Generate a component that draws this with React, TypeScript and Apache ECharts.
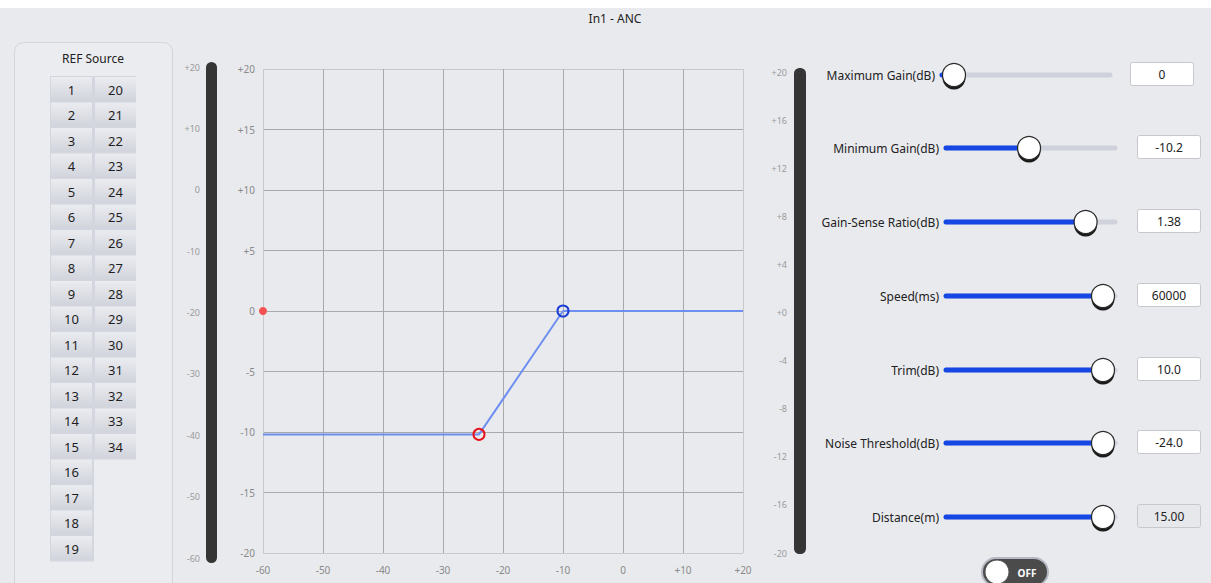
import React, { useEffect, useRef } from 'react';
import * as echarts from 'echarts';

// ---------- data ----------
const TITLE = 'In1 - ANC';
const PANEL_TITLE = 'REF Source';

// transfer curve (input dB -> gain dB)
const curveX = [-60, -24, -10, 20];
const curveY = [-10.2, -10.2, 0, 0];
const kneeLow = [-24, -10.2];
const kneeHigh = [-10, 0];
const inputLevel = [-60, 0];

// main axes
const xMin = -60, xMax = 20, xStep = 10;
const yMin = -20, yMax = 20, yStep = 5;
// meters
const leftMeterMin = -60, leftMeterMax = 20, leftMeterStep = 10;
const rightMeterMin = -20, rightMeterMax = 20, rightMeterStep = 4;

// REF source buttons
const refCol1 = ['1', '2', '3', '4', '5', '6', '7', '8', '9', '10', '11', '12', '13', '14', '15', '16', '17', '18', '19'];
const refCol2 = ['20', '21', '22', '23', '24', '25', '26', '27', '28', '29', '30', '31', '32', '33', '34'];

// sliders
const sliderLabels = ['Maximum Gain(dB)', 'Minimum Gain(dB)', 'Gain-Sense Ratio(dB)', 'Speed(ms)', 'Trim(dB)', 'Noise Threshold(dB)', 'Distance(m)'];
const sliderValues = [0, -10.2, 1.38, 60000, 10.0, -24.0, 15.0];
const sliderTexts = ['0', '-10.2', '1.38', '60000', '10.0', '-24.0', '15.00'];
const sliderMins = [0, -20, 0.5, 0, -20, -60, 0];
const sliderMaxs = [20, 0, 1.5, 60000, 10, -24, 15];
const sliderEnabled = [true, true, true, true, true, true, false];
const TOGGLE_TEXT = 'OFF';

// ---------- layout ----------
const W = 1211, H = 583;
const FONT = "'Segoe UI', 'Noto Sans', sans-serif";
const rowY = [75, 148, 222, 296, 370, 443, 517];
const trackL = [942, 946, 946, 946, 946, 946, 946];
const trackR = [1110, 1115, 1115, 1115, 1115, 1115, 1115];
const boxX = [1130, 1137, 1137, 1137, 1137, 1137, 1137];
const THUMB_R = 12;

const signed = (v: number) => (v > 0 ? '+' + v : String(v));
const signedZero = (v: number) => (v >= 0 ? '+' + v : String(v));

function buildOption() {
  const grids: any[] = [
    { left: 263, top: 69, width: 480, height: 484 },
    { left: 206, top: 67, width: 11, height: 491 },
    { left: 794, top: 72, width: 12, height: 481 },
  ];
  const gridColors = ['#c9c9c9', '#a9a9a9', '#a9a9a9', '#a9a9a9', '#a9a9a9', '#a9a9a9', '#a9a9a9', '#a9a9a9', '#c9c9c9'];
  const xAxes: any[] = [
    {
      gridIndex: 0, type: 'value', min: xMin, max: xMax, interval: xStep,
      axisLine: { show: false },
      axisTick: { show: false },
      axisLabel: { formatter: signed, color: '#8a8a8a', fontSize: 10, margin: 12, fontFamily: FONT },
      splitLine: { show: true, lineStyle: { color: gridColors, width: 1 } },
    },
    { gridIndex: 1, type: 'value', show: false },
    { gridIndex: 2, type: 'value', show: false },
  ];
  const yAxes: any[] = [
    {
      gridIndex: 0, type: 'value', min: yMin, max: yMax, interval: yStep,
      axisLine: { show: false },
      axisTick: { show: false },
      axisLabel: { formatter: signed, color: '#8a8a8a', fontSize: 10, margin: 8, fontFamily: FONT },
      splitLine: { show: true, lineStyle: { color: gridColors, width: 1 } },
    },
    {
      gridIndex: 1, type: 'value', min: leftMeterMin, max: leftMeterMax, interval: leftMeterStep,
      axisLine: { show: false }, axisTick: { show: false }, splitLine: { show: false },
      axisLabel: { formatter: signed, color: '#9a9a9a', fontSize: 9, margin: 6, fontFamily: FONT },
    },
    {
      gridIndex: 2, type: 'value', min: rightMeterMin, max: rightMeterMax, interval: rightMeterStep,
      axisLine: { show: false }, axisTick: { show: false }, splitLine: { show: false },
      axisLabel: { formatter: signedZero, color: '#9a9a9a', fontSize: 9, margin: 7, fontFamily: FONT },
    },
  ];

  const series: any[] = [
    {
      type: 'line', xAxisIndex: 0, yAxisIndex: 0,
      data: curveX.map((x, i) => [x, curveY[i]]),
      showSymbol: false, symbol: 'none',
      lineStyle: { color: '#6f8ff0', width: 2 },
      z: 3,
    },
    {
      type: 'scatter', xAxisIndex: 0, yAxisIndex: 0, data: [kneeLow], symbol: 'circle', symbolSize: 11,
      itemStyle: { color: 'rgba(0,0,0,0)', borderColor: '#e8141c', borderWidth: 2, opacity: 1 }, z: 4, clip: false,
    },
    {
      type: 'scatter', xAxisIndex: 0, yAxisIndex: 0, data: [kneeHigh], symbol: 'circle', symbolSize: 11,
      itemStyle: { color: 'rgba(0,0,0,0)', borderColor: '#1c3fd8', borderWidth: 2, opacity: 1 }, z: 4, clip: false,
    },
    {
      type: 'scatter', xAxisIndex: 0, yAxisIndex: 0, data: [inputLevel], symbol: 'circle', symbolSize: 8,
      itemStyle: { color: '#f25252', opacity: 1 }, z: 4, clip: false,
    },
  ];

  sliderLabels.forEach((label, i) => {
    const idx = 3 + i;
    const len = trackR[i] - trackL[i];
    const span = sliderMaxs[i] - sliderMins[i];
    const pad = (span * THUMB_R) / (len - 2 * THUMB_R);
    const aMin = sliderMins[i] - pad;
    const aMax = sliderMaxs[i] + pad;
    grids.push({ left: trackL[i], top: rowY[i] - 10, width: len, height: 20 });
    xAxes.push({ gridIndex: idx, type: 'value', min: aMin, max: aMax, show: false });
    yAxes.push({
      gridIndex: idx, type: 'category', data: [label],
      axisLine: { show: false }, axisTick: { show: false }, splitLine: { show: false },
      axisLabel: { color: '#222', fontSize: 12, margin: 7, fontFamily: FONT },
    });
    series.push(
      {
        type: 'line', xAxisIndex: idx, yAxisIndex: idx, data: [[aMin, 0], [aMax, 0]],
        showSymbol: false, symbol: 'none', clip: false,
        lineStyle: { color: '#cfd1db', width: 5, cap: 'round' }, z: 2,
      },
      {
        type: 'line', xAxisIndex: idx, yAxisIndex: idx, data: [[aMin, 0], [sliderValues[i], 0]],
        showSymbol: false, symbol: 'none', clip: false,
        lineStyle: { color: '#1647e4', width: 5, cap: 'round' }, z: 3,
      },
      {
        type: 'scatter', xAxisIndex: idx, yAxisIndex: idx, data: [[sliderValues[i], 0]],
        symbol: 'circle', symbolSize: 23, symbolOffset: [0, 3], clip: false,
        itemStyle: { color: '#1b1b1b', opacity: 1 }, z: 4,
      },
      {
        type: 'scatter', xAxisIndex: idx, yAxisIndex: idx, data: [[sliderValues[i], 0]],
        symbol: 'circle', symbolSize: 23, clip: false,
        itemStyle: { color: '#ffffff', borderColor: '#2b2b2b', borderWidth: 1.2, opacity: 1 }, z: 5,
      },
    );
  });

  const graphic: any[] = [];
  graphic.push({ type: 'rect', shape: { x: 0, y: 0, width: W, height: 8 }, style: { fill: '#ffffff' }, z: -10, silent: true });
  graphic.push({
    type: 'text', x: 615, y: 18,
    style: { text: TITLE, fill: '#222', fontSize: 12, fontFamily: FONT, textAlign: 'center', textVerticalAlign: 'middle' },
  });
  // left panel
  graphic.push({
    type: 'rect', shape: { x: 14.5, y: 42.5, width: 158, height: 580, r: 9 },
    style: { fill: '#ebecf0', stroke: '#d3d5db', lineWidth: 1 }, z: -5,
  });
  graphic.push({
    type: 'text', x: 93, y: 58,
    style: { text: PANEL_TITLE, fill: '#222', fontSize: 12, fontFamily: FONT, textAlign: 'center', textVerticalAlign: 'middle' },
  });
  const pitch = 25.5;
  graphic.push({ type: 'rect', shape: { x: 50, y: 76, width: 86, height: refCol2.length * pitch + 1 }, style: { fill: '#d3d6de' }, z: -4 });
  graphic.push({ type: 'rect', shape: { x: 50, y: 76, width: 44, height: refCol1.length * pitch + 1 }, style: { fill: '#d3d6de' }, z: -4 });
  const btnFill = new echarts.graphic.LinearGradient(0, 0, 0, 1, [
    { offset: 0, color: '#ebecf0' },
    { offset: 1, color: '#d1d4dc' },
  ]);
  [refCol1, refCol2].forEach((col, c) => {
    col.forEach((t, r) => {
      const x = 51 + c * 44;
      const y = 77 + r * pitch;
      graphic.push({ type: 'rect', shape: { x, y, width: 41, height: 24 }, style: { fill: btnFill }, z: -3 });
      graphic.push({
        type: 'text', x: x + 20.5, y: y + 12.5,
        style: { text: t, fill: '#1e1e1e', fontSize: 13, fontFamily: FONT, textAlign: 'center', textVerticalAlign: 'middle' }, z: -2,
      });
    });
  });
  // meters
  graphic.push({ type: 'rect', shape: { x: 206, y: 62, width: 11, height: 501, r: 5.5 }, style: { fill: '#353535' } });
  graphic.push({ type: 'rect', shape: { x: 794, y: 68, width: 12, height: 486, r: 5.5 }, style: { fill: '#353535' } });
  // value boxes
  sliderTexts.forEach((t, i) => {
    graphic.push({
      type: 'rect', shape: { x: boxX[i] + 0.5, y: rowY[i] - 12.5, width: 63, height: 23, r: 2 },
      style: { fill: sliderEnabled[i] ? '#ffffff' : '#e7e8eb', stroke: '#c6c8cc', lineWidth: 1 },
    });
    graphic.push({
      type: 'text', x: boxX[i] + 32, y: rowY[i] - 1,
      style: { text: t, fill: '#222', fontSize: 12, fontFamily: FONT, textAlign: 'center', textVerticalAlign: 'middle' },
    });
  });
  // toggle
  graphic.push({
    type: 'rect', shape: { x: 982, y: 558, width: 66, height: 28, r: 14 },
    style: { fill: '#4b4b4b', stroke: '#b4b8c2', lineWidth: 2 },
  });
  graphic.push({ type: 'circle', shape: { cx: 997, cy: 572, r: 12 }, style: { fill: '#ffffff', stroke: '#555', lineWidth: 1 } });
  graphic.push({
    type: 'text', x: 1027, y: 573,
    style: { text: TOGGLE_TEXT, fill: '#ffffff', fontSize: 10, fontWeight: 'bold', fontFamily: FONT, textAlign: 'center', textVerticalAlign: 'middle' },
  });

  return {
    animation: false,
    backgroundColor: '#e9eaee',
    grid: grids,
    xAxis: xAxes,
    yAxis: yAxes,
    series,
    graphic,
  };
}

export default function App() {
  const ref = useRef<HTMLDivElement>(null);
  useEffect(() => {
    if (!ref.current) return;
    const chart = echarts.init(ref.current, undefined, { renderer: 'svg' });
    chart.setOption(buildOption() as any);
    return () => chart.dispose();
  }, []);
  return <div ref={ref} style={{ position: 'absolute', left: 0, top: 0, width: W, height: H }} />;
}
